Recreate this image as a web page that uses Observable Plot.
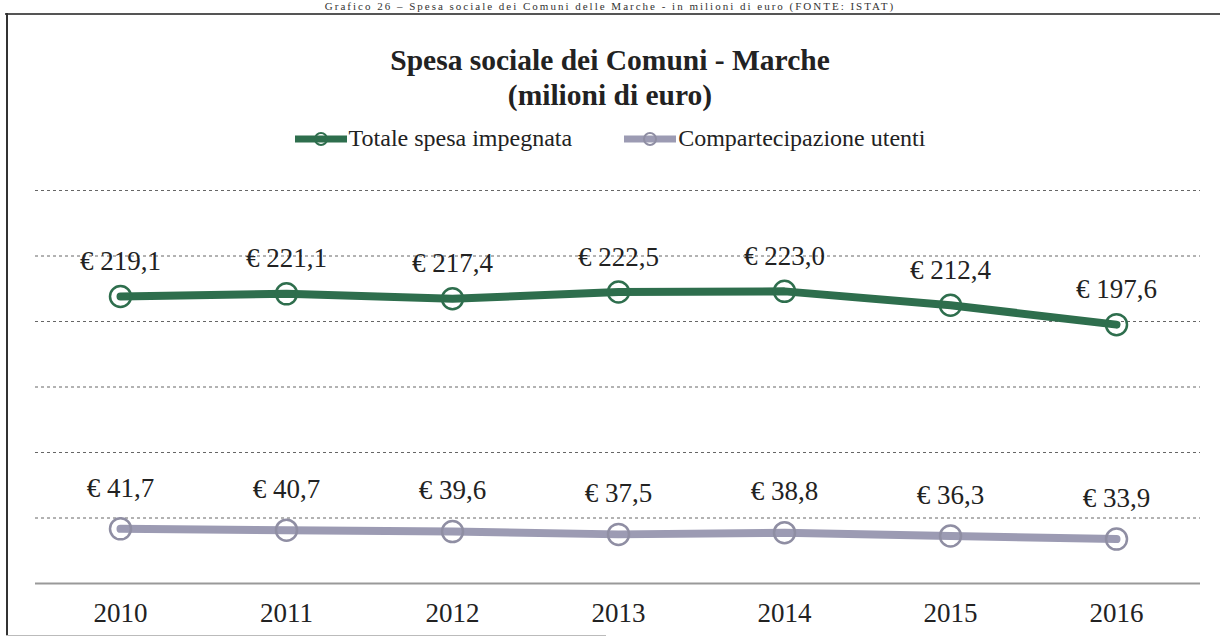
<!DOCTYPE html>
<html>
<head>
<meta charset="utf-8">
<script src="https://cdn.jsdelivr.net/npm/d3@7"></script>
<script src="https://cdn.jsdelivr.net/npm/@observablehq/plot@0.6"></script>
<style>
  html, body { margin: 0; padding: 0; background: #fff; }
  #page { position: relative; width: 1220px; height: 636px; overflow: hidden; font-family: "Liberation Serif", serif; color: #222; }
  #cut { position: absolute; left: 0; width: 1220px; top: 0px; text-align: center; font-size: 11px; line-height: 12px; letter-spacing: 2px; color: #333; white-space: nowrap; }
  #topline { position: absolute; left: 5px; right: 0; top: 13px; height: 2px; background: #555; }
  #leftline { position: absolute; left: 6px; top: 13px; bottom: 0; width: 2px; background: #333; }
  #bottomline { position: absolute; left: 6px; width: 600px; bottom: 0; height: 1px; background: #bbb; }
  #title { position: absolute; left: 0; width: 1220px; top: 43px; text-align: center; font-weight: bold; font-size: 29.5px; line-height: 35px; color: #222; }
  #legend { position: absolute; left: 0; width: 1220px; top: 125px; display: flex; justify-content: center; align-items: center; font-size: 24px; color: #222; }
  .item { display: flex; align-items: center; margin: 0 26px; }
  .item svg { margin-right: 2px; }
  #chart { position: absolute; left: 0; top: 160px; }
</style>
</head>
<body>
<div id="page">
  <div id="cut">Grafico 26 – Spesa sociale dei Comuni delle Marche - in milioni di euro (FONTE: ISTAT)</div>
  <div id="topline"></div>
  <div id="leftline"></div>
  <div id="bottomline"></div>
  <div id="title">Spesa sociale dei Comuni - Marche<br>(milioni di euro)</div>
  <div id="legend"></div>
  <div id="chart"></div>
</div>
<script>
const years = ["2010", "2011", "2012", "2013", "2014", "2015", "2016"];
const totaleSpesa = [219.1, 221.1, 217.4, 222.5, 223.0, 212.4, 197.6];
const compartecipazione = [41.7, 40.7, 39.6, 37.5, 38.8, 36.3, 33.9];
const seriesNames = ["Totale spesa impegnata", "Compartecipazione utenti"];
const seriesColors = ["#2e6e4d", "#9c9bb3"];
const markerColors = ["#2e6e4d", "#8f8ea3"];
const yTicks = [50, 100, 150, 200, 250, 300];

const rows = [];
years.forEach((y, i) => {
  rows.push({year: y, value: totaleSpesa[i], series: seriesNames[0]});
  rows.push({year: y, value: compartecipazione[i], series: seriesNames[1]});
});
const fmt = v => "€ " + v.toFixed(1).replace(".", ",");

// Legend
const legend = document.getElementById("legend");
seriesNames.forEach((name, i) => {
  const item = document.createElement("div");
  item.className = "item";
  item.innerHTML = `<svg width="52" height="20"><line x1="0" y1="10" x2="52" y2="10" stroke="${seriesColors[i]}" stroke-width="7"/><circle cx="26" cy="10" r="6" fill="none" stroke="${markerColors[i]}" stroke-width="2"/></svg><span>${name}</span>`;
  legend.appendChild(item);
});

const chart = Plot.plot({
  width: 1220,
  height: 476,
  marginLeft: 35,
  marginRight: 20,
  marginTop: 30,
  marginBottom: 53,
  style: {fontFamily: "Liberation Serif, serif", fontSize: "27px", color: "#222", background: "transparent"},
  x: {type: "point", domain: years, padding: 0.5, label: null},
  y: {domain: [0, 300], label: null, axis: null},
  marks: [
    Plot.ruleY(yTicks, {stroke: "#666", strokeDasharray: "3,3", strokeWidth: 1}),
    Plot.ruleY([0], {stroke: "#999", strokeWidth: 2}),
    Plot.axisX({tickSize: 0, tickPadding: 19, fontSize: 27, fill: "#222"}),
    Plot.line(rows, {x: "year", y: "value", z: "series", stroke: d => seriesColors[seriesNames.indexOf(d.series)], strokeWidth: 8}),
    Plot.dot(rows, {x: "year", y: "value", r: 10.5, fill: "none", stroke: d => markerColors[seriesNames.indexOf(d.series)], strokeWidth: 2.5}),
    Plot.text(rows.filter(d => d.series === seriesNames[0]), {x: "year", y: "value", text: d => fmt(d.value), dy: -35, fontSize: 27, fill: "#222"}),
    Plot.text(rows.filter(d => d.series === seriesNames[1]), {x: "year", y: "value", text: d => fmt(d.value), dy: -41, fontSize: 27, fill: "#222"})
  ]
});
document.getElementById("chart").appendChild(chart);
</script>
</body>
</html>
